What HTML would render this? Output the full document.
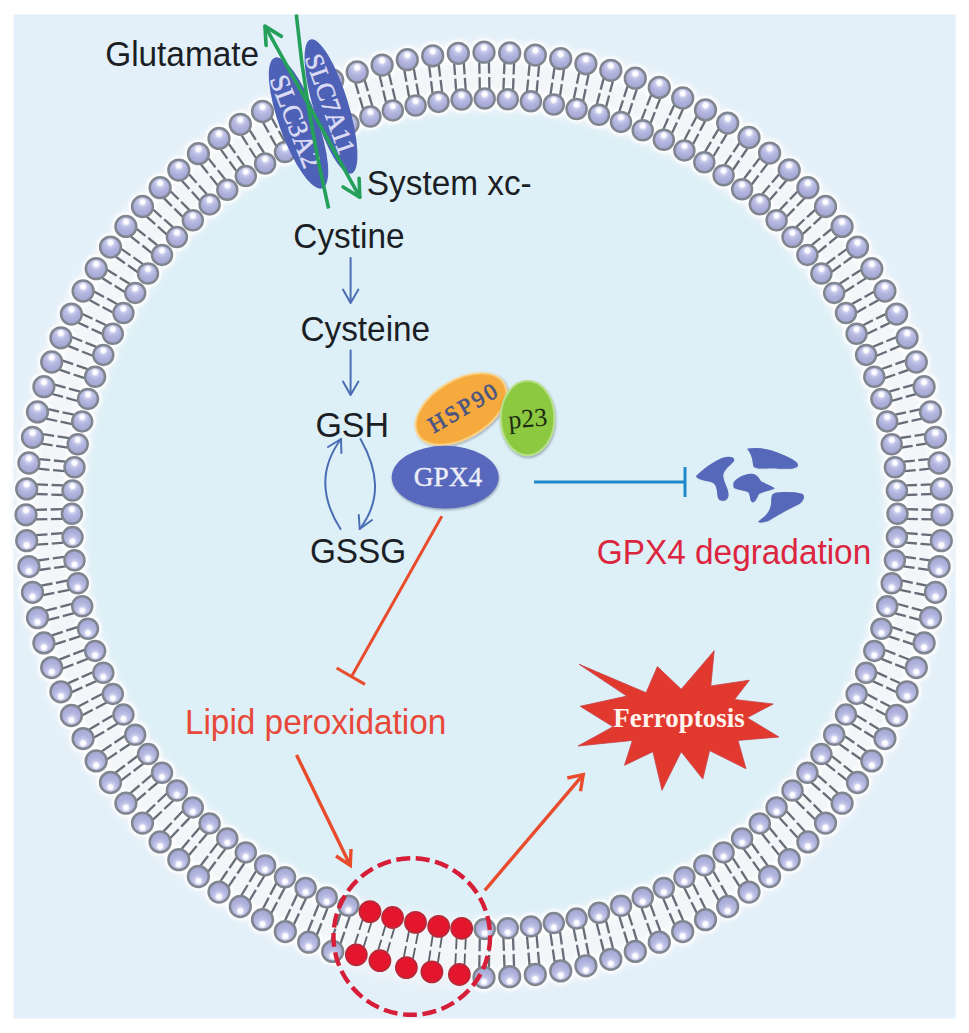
<!DOCTYPE html>
<html><head><meta charset="utf-8"><title>GPX4 ferroptosis</title>
<style>
html,body{margin:0;padding:0;background:#fff;}
body{width:969px;height:1033px;overflow:hidden;}
svg{display:block;}
.sans{font-family:"Liberation Sans",sans-serif;}
.serif{font-family:"Liberation Serif",serif;}
</style></head><body>
<svg width="969" height="1033" viewBox="0 0 969 1033">
<defs>
<radialGradient id="hu" cx="0.5" cy="0.3" r="0.62" fx="0.5" fy="0.28">
<stop offset="0" stop-color="#ffffff"/><stop offset="0.17" stop-color="#fbfbff"/><stop offset="0.33" stop-color="#c6c9ea"/><stop offset="0.6" stop-color="#b1b4de"/><stop offset="1" stop-color="#a5a8d4"/>
</radialGradient>
<radialGradient id="hd" cx="0.5" cy="0.7" r="0.62" fx="0.5" fy="0.72">
<stop offset="0" stop-color="#ffffff"/><stop offset="0.17" stop-color="#fbfbff"/><stop offset="0.33" stop-color="#c6c9ea"/><stop offset="0.6" stop-color="#b1b4de"/><stop offset="1" stop-color="#a5a8d4"/>
</radialGradient>
<filter id="ds" x="-20%" y="-20%" width="140%" height="150%"><feDropShadow dx="0.6" dy="1.6" stdDeviation="1.3" flood-color="#3c4466" flood-opacity="0.45"/></filter>
<filter id="soft" x="-2%" y="-2%" width="104%" height="104%"><feGaussianBlur stdDeviation="0.45"/></filter>
<filter id="blur1" x="-10%" y="-10%" width="120%" height="120%"><feGaussianBlur stdDeviation="3"/></filter>
<filter id="sh" x="-5%" y="-5%" width="110%" height="110%"><feGaussianBlur stdDeviation="1.6"/></filter>
</defs>
<rect x="0" y="0" width="969" height="1033" fill="#ffffff"/>
<rect x="13.5" y="14.5" width="942" height="1004" fill="#e4f0f9"/>

<ellipse cx="484.7" cy="513.8" rx="412.8" ry="415.2" fill="#def0f7"/>
<g filter="url(#soft)">
<ellipse cx="484" cy="514.8" rx="435.4" ry="438.9" fill="none" stroke="#edf3f8" stroke-width="71.2" filter="url(#blur1)"/>
<ellipse cx="484" cy="514.8" rx="435.4" ry="438.9" fill="none" stroke="#f3f6f8" stroke-width="41.2"/>
<g fill="#ffffff" filter="url(#sh)"><circle cx="484" cy="52.2" r="13.9"/><circle cx="484.7" cy="98.6" r="13.5"/><circle cx="509.7" cy="52.9" r="13.9"/><circle cx="507.8" cy="99.3" r="13.5"/><circle cx="535.3" cy="55.1" r="13.9"/><circle cx="530.9" cy="101.2" r="13.5"/><circle cx="560.7" cy="58.7" r="13.9"/><circle cx="553.8" cy="104.5" r="13.5"/><circle cx="585.9" cy="63.8" r="13.9"/><circle cx="576.6" cy="109" r="13.5"/><circle cx="610.8" cy="70.3" r="13.9"/><circle cx="599" cy="114.8" r="13.5"/><circle cx="635.3" cy="78.2" r="13.9"/><circle cx="621" cy="121.9" r="13.5"/><circle cx="659.3" cy="87.4" r="13.9"/><circle cx="642.7" cy="130.2" r="13.5"/><circle cx="682.7" cy="98" r="13.9"/><circle cx="663.8" cy="139.7" r="13.5"/><circle cx="705.5" cy="109.9" r="13.9"/><circle cx="684.4" cy="150.4" r="13.5"/><circle cx="727.7" cy="123.1" r="13.9"/><circle cx="704.3" cy="162.2" r="13.5"/><circle cx="749" cy="137.5" r="13.9"/><circle cx="723.6" cy="175.2" r="13.5"/><circle cx="769.6" cy="153.1" r="13.9"/><circle cx="742.1" cy="189.2" r="13.5"/><circle cx="789.2" cy="169.9" r="13.9"/><circle cx="759.8" cy="204.2" r="13.5"/><circle cx="807.9" cy="187.7" r="13.9"/><circle cx="776.6" cy="220.2" r="13.5"/><circle cx="825.5" cy="206.5" r="13.9"/><circle cx="792.5" cy="237.1" r="13.5"/><circle cx="842.1" cy="226.4" r="13.9"/><circle cx="807.4" cy="254.9" r="13.5"/><circle cx="857.5" cy="247.1" r="13.9"/><circle cx="821.4" cy="273.5" r="13.5"/><circle cx="871.8" cy="268.7" r="13.9"/><circle cx="834.2" cy="292.9" r="13.5"/><circle cx="884.9" cy="291" r="13.9"/><circle cx="846" cy="313" r="13.5"/><circle cx="896.6" cy="314.1" r="13.9"/><circle cx="856.6" cy="333.7" r="13.5"/><circle cx="907.1" cy="337.8" r="13.9"/><circle cx="866.1" cy="354.9" r="13.5"/><circle cx="916.3" cy="362" r="13.9"/><circle cx="874.3" cy="376.7" r="13.5"/><circle cx="924.1" cy="386.7" r="13.9"/><circle cx="881.4" cy="398.9" r="13.5"/><circle cx="930.5" cy="411.9" r="13.9"/><circle cx="887.2" cy="421.4" r="13.5"/><circle cx="935.5" cy="437.3" r="13.9"/><circle cx="891.7" cy="444.3" r="13.5"/><circle cx="939.1" cy="463" r="13.9"/><circle cx="894.9" cy="467.3" r="13.5"/><circle cx="941.3" cy="488.9" r="13.9"/><circle cx="896.9" cy="490.5" r="13.5"/><circle cx="942" cy="514.8" r="13.9"/><circle cx="897.5" cy="513.8" r="13.5"/><circle cx="941.3" cy="540.7" r="13.9"/><circle cx="896.9" cy="537.1" r="13.5"/><circle cx="939.1" cy="566.6" r="13.9"/><circle cx="894.9" cy="560.3" r="13.5"/><circle cx="935.5" cy="592.3" r="13.9"/><circle cx="891.7" cy="583.3" r="13.5"/><circle cx="930.5" cy="617.7" r="13.9"/><circle cx="887.2" cy="606.2" r="13.5"/><circle cx="924.1" cy="642.9" r="13.9"/><circle cx="881.4" cy="628.7" r="13.5"/><circle cx="916.3" cy="667.6" r="13.9"/><circle cx="874.3" cy="650.9" r="13.5"/><circle cx="907.1" cy="691.8" r="13.9"/><circle cx="866.1" cy="672.7" r="13.5"/><circle cx="896.6" cy="715.5" r="13.9"/><circle cx="856.6" cy="693.9" r="13.5"/><circle cx="884.9" cy="738.6" r="13.9"/><circle cx="846" cy="714.6" r="13.5"/><circle cx="871.8" cy="760.9" r="13.9"/><circle cx="834.2" cy="734.7" r="13.5"/><circle cx="857.5" cy="782.5" r="13.9"/><circle cx="821.4" cy="754.1" r="13.5"/><circle cx="842.1" cy="803.2" r="13.9"/><circle cx="807.4" cy="772.7" r="13.5"/><circle cx="825.5" cy="823.1" r="13.9"/><circle cx="792.5" cy="790.5" r="13.5"/><circle cx="807.9" cy="841.9" r="13.9"/><circle cx="776.6" cy="807.4" r="13.5"/><circle cx="789.2" cy="859.7" r="13.9"/><circle cx="759.8" cy="823.4" r="13.5"/><circle cx="769.6" cy="876.5" r="13.9"/><circle cx="742.1" cy="838.4" r="13.5"/><circle cx="749" cy="892.1" r="13.9"/><circle cx="723.6" cy="852.4" r="13.5"/><circle cx="727.7" cy="906.5" r="13.9"/><circle cx="704.3" cy="865.4" r="13.5"/><circle cx="705.5" cy="919.7" r="13.9"/><circle cx="684.4" cy="877.2" r="13.5"/><circle cx="682.7" cy="931.6" r="13.9"/><circle cx="663.8" cy="887.9" r="13.5"/><circle cx="659.3" cy="942.2" r="13.9"/><circle cx="642.7" cy="897.4" r="13.5"/><circle cx="635.3" cy="951.4" r="13.9"/><circle cx="621" cy="905.7" r="13.5"/><circle cx="610.8" cy="959.3" r="13.9"/><circle cx="599" cy="912.8" r="13.5"/><circle cx="585.9" cy="965.8" r="13.9"/><circle cx="576.6" cy="918.6" r="13.5"/><circle cx="560.7" cy="970.9" r="13.9"/><circle cx="553.8" cy="923.1" r="13.5"/><circle cx="535.3" cy="974.5" r="13.9"/><circle cx="530.9" cy="926.4" r="13.5"/><circle cx="509.7" cy="976.7" r="13.9"/><circle cx="507.8" cy="928.3" r="13.5"/><circle cx="484" cy="977.4" r="13.9"/><circle cx="484.7" cy="929" r="13.5"/><circle cx="332.7" cy="951.4" r="13.9"/><circle cx="348.4" cy="905.7" r="13.5"/><circle cx="308.7" cy="942.2" r="13.9"/><circle cx="326.7" cy="897.4" r="13.5"/><circle cx="285.3" cy="931.6" r="13.9"/><circle cx="305.6" cy="887.9" r="13.5"/><circle cx="262.5" cy="919.7" r="13.9"/><circle cx="285" cy="877.2" r="13.5"/><circle cx="240.3" cy="906.5" r="13.9"/><circle cx="265.1" cy="865.4" r="13.5"/><circle cx="219" cy="892.1" r="13.9"/><circle cx="245.8" cy="852.4" r="13.5"/><circle cx="198.4" cy="876.5" r="13.9"/><circle cx="227.3" cy="838.4" r="13.5"/><circle cx="178.8" cy="859.7" r="13.9"/><circle cx="209.6" cy="823.4" r="13.5"/><circle cx="160.1" cy="841.9" r="13.9"/><circle cx="192.8" cy="807.4" r="13.5"/><circle cx="142.5" cy="823.1" r="13.9"/><circle cx="176.9" cy="790.5" r="13.5"/><circle cx="125.9" cy="803.2" r="13.9"/><circle cx="162" cy="772.7" r="13.5"/><circle cx="110.5" cy="782.5" r="13.9"/><circle cx="148" cy="754.1" r="13.5"/><circle cx="96.2" cy="760.9" r="13.9"/><circle cx="135.2" cy="734.7" r="13.5"/><circle cx="83.1" cy="738.6" r="13.9"/><circle cx="123.4" cy="714.6" r="13.5"/><circle cx="71.4" cy="715.5" r="13.9"/><circle cx="112.8" cy="693.9" r="13.5"/><circle cx="60.9" cy="691.8" r="13.9"/><circle cx="103.3" cy="672.7" r="13.5"/><circle cx="51.7" cy="667.6" r="13.9"/><circle cx="95.1" cy="650.9" r="13.5"/><circle cx="43.9" cy="642.9" r="13.9"/><circle cx="88" cy="628.7" r="13.5"/><circle cx="37.5" cy="617.7" r="13.9"/><circle cx="82.2" cy="606.2" r="13.5"/><circle cx="32.5" cy="592.3" r="13.9"/><circle cx="77.7" cy="583.3" r="13.5"/><circle cx="28.9" cy="566.6" r="13.9"/><circle cx="74.5" cy="560.3" r="13.5"/><circle cx="26.7" cy="540.7" r="13.9"/><circle cx="72.5" cy="537.1" r="13.5"/><circle cx="26" cy="514.8" r="13.9"/><circle cx="71.9" cy="513.8" r="13.5"/><circle cx="26.7" cy="488.9" r="13.9"/><circle cx="72.5" cy="490.5" r="13.5"/><circle cx="28.9" cy="463" r="13.9"/><circle cx="74.5" cy="467.3" r="13.5"/><circle cx="32.5" cy="437.3" r="13.9"/><circle cx="77.7" cy="444.3" r="13.5"/><circle cx="37.5" cy="411.9" r="13.9"/><circle cx="82.2" cy="421.4" r="13.5"/><circle cx="43.9" cy="386.7" r="13.9"/><circle cx="88" cy="398.9" r="13.5"/><circle cx="51.7" cy="362" r="13.9"/><circle cx="95.1" cy="376.7" r="13.5"/><circle cx="60.9" cy="337.8" r="13.9"/><circle cx="103.3" cy="354.9" r="13.5"/><circle cx="71.4" cy="314.1" r="13.9"/><circle cx="112.8" cy="333.7" r="13.5"/><circle cx="83.1" cy="291" r="13.9"/><circle cx="123.4" cy="313" r="13.5"/><circle cx="96.2" cy="268.7" r="13.9"/><circle cx="135.2" cy="292.9" r="13.5"/><circle cx="110.5" cy="247.1" r="13.9"/><circle cx="148" cy="273.5" r="13.5"/><circle cx="125.9" cy="226.4" r="13.9"/><circle cx="162" cy="254.9" r="13.5"/><circle cx="142.5" cy="206.5" r="13.9"/><circle cx="176.9" cy="237.1" r="13.5"/><circle cx="160.1" cy="187.7" r="13.9"/><circle cx="192.8" cy="220.2" r="13.5"/><circle cx="178.8" cy="170.1" r="13.9"/><circle cx="209.6" cy="204.4" r="13.5"/><circle cx="198.4" cy="153.7" r="13.9"/><circle cx="227.3" cy="189.8" r="13.5"/><circle cx="219" cy="138.4" r="13.9"/><circle cx="245.8" cy="176.1" r="13.5"/><circle cx="240.3" cy="124.3" r="13.9"/><circle cx="265.1" cy="163.5" r="13.5"/><circle cx="262.5" cy="111.5" r="13.9"/><circle cx="285" cy="152" r="13.5"/><circle cx="332.7" cy="80.2" r="13.9"/><circle cx="348.4" cy="123.9" r="13.5"/><circle cx="357.2" cy="72" r="13.9"/><circle cx="370.4" cy="116.5" r="13.5"/><circle cx="382.1" cy="65.1" r="13.9"/><circle cx="392.8" cy="110.4" r="13.5"/><circle cx="407.3" cy="59.7" r="13.9"/><circle cx="415.6" cy="105.5" r="13.5"/><circle cx="432.7" cy="55.8" r="13.9"/><circle cx="438.5" cy="101.9" r="13.5"/><circle cx="458.3" cy="53.3" r="13.9"/><circle cx="461.6" cy="99.6" r="13.5"/></g>
<g stroke="#666d76" stroke-width="2.3" stroke-linecap="butt"><line x1="488.9" y1="62" x2="489.1" y2="73.5"/><line x1="489.2" y1="77.1" x2="489.4" y2="89"/><line x1="479.3" y1="62.2" x2="479.5" y2="73.7"/><line x1="479.6" y1="77.3" x2="479.8" y2="89.2"/><line x1="514.1" y1="63" x2="513.6" y2="74.5"/><line x1="513.5" y1="78.1" x2="513" y2="90"/><line x1="504.5" y1="62.6" x2="504" y2="74.1"/><line x1="503.9" y1="77.7" x2="503.4" y2="89.6"/><line x1="539.1" y1="65.4" x2="538" y2="76.8"/><line x1="537.7" y1="80.4" x2="536.6" y2="92.2"/><line x1="529.6" y1="64.5" x2="528.5" y2="75.9"/><line x1="528.2" y1="79.5" x2="527" y2="91.3"/><line x1="564" y1="69.2" x2="562.3" y2="80.5"/><line x1="561.8" y1="84.1" x2="560" y2="95.8"/><line x1="554.5" y1="67.8" x2="552.8" y2="79.1"/><line x1="552.3" y1="82.7" x2="550.5" y2="94.4"/><line x1="588.6" y1="74.5" x2="586.3" y2="85.6"/><line x1="585.6" y1="89.1" x2="583.2" y2="100.7"/><line x1="579.2" y1="72.5" x2="576.9" y2="83.7"/><line x1="576.2" y1="87.2" x2="573.8" y2="98.7"/><line x1="612.9" y1="81.1" x2="610" y2="92"/><line x1="609.1" y1="95.5" x2="606.1" y2="106.9"/><line x1="603.6" y1="78.6" x2="600.7" y2="89.6"/><line x1="599.8" y1="93.1" x2="596.8" y2="104.4"/><line x1="636.8" y1="89.1" x2="633.3" y2="99.8"/><line x1="632.2" y1="103.2" x2="628.5" y2="114.4"/><line x1="627.6" y1="86.1" x2="624.1" y2="96.8"/><line x1="623" y1="100.3" x2="619.4" y2="111.4"/><line x1="660.2" y1="98.4" x2="656.1" y2="108.9"/><line x1="654.8" y1="112.2" x2="650.6" y2="123.1"/><line x1="651.2" y1="94.9" x2="647.1" y2="105.4"/><line x1="645.8" y1="108.8" x2="641.6" y2="119.6"/><line x1="683" y1="109" x2="678.4" y2="119.2"/><line x1="676.9" y1="122.5" x2="672.1" y2="133"/><line x1="674.3" y1="105" x2="669.6" y2="115.2"/><line x1="668.1" y1="118.5" x2="663.4" y2="129.1"/><line x1="705.2" y1="120.9" x2="700" y2="130.8"/><line x1="698.4" y1="134" x2="693" y2="144.2"/><line x1="696.7" y1="116.5" x2="691.5" y2="126.3"/><line x1="689.9" y1="129.5" x2="684.5" y2="139.8"/><line x1="726.7" y1="134.1" x2="721" y2="143.6"/><line x1="719.2" y1="146.7" x2="713.3" y2="156.5"/><line x1="718.5" y1="129.1" x2="712.8" y2="138.7"/><line x1="711" y1="141.8" x2="705.1" y2="151.6"/><line x1="747.5" y1="148.4" x2="741.3" y2="157.5"/><line x1="739.3" y1="160.5" x2="732.9" y2="170"/><line x1="739.5" y1="143" x2="733.3" y2="152.2"/><line x1="731.3" y1="155.2" x2="724.9" y2="164.6"/><line x1="767.4" y1="163.9" x2="760.7" y2="172.6"/><line x1="758.5" y1="175.5" x2="751.7" y2="184.5"/><line x1="759.7" y1="158.1" x2="753.1" y2="166.8"/><line x1="750.9" y1="169.7" x2="744" y2="178.7"/><line x1="786.4" y1="180.5" x2="779.3" y2="188.8"/><line x1="777" y1="191.5" x2="769.6" y2="200.1"/><line x1="779.1" y1="174.3" x2="772" y2="182.5"/><line x1="769.7" y1="185.3" x2="762.3" y2="193.9"/><line x1="804.5" y1="198.2" x2="796.9" y2="206"/><line x1="794.4" y1="208.6" x2="786.6" y2="216.7"/><line x1="797.5" y1="191.5" x2="790" y2="199.3"/><line x1="787.5" y1="201.9" x2="779.7" y2="210"/><line x1="821.5" y1="216.8" x2="813.6" y2="224.1"/><line x1="810.9" y1="226.6" x2="802.7" y2="234.2"/><line x1="815" y1="209.8" x2="807.1" y2="217.1"/><line x1="804.4" y1="219.5" x2="796.2" y2="227.2"/><line x1="837.5" y1="236.4" x2="829.2" y2="243.2"/><line x1="826.4" y1="245.5" x2="817.8" y2="252.6"/><line x1="831.4" y1="229" x2="823.1" y2="235.8"/><line x1="820.3" y1="238.1" x2="811.7" y2="245.2"/><line x1="852.4" y1="256.8" x2="843.7" y2="263.1"/><line x1="840.8" y1="265.3" x2="831.9" y2="271.8"/><line x1="846.7" y1="249.1" x2="838.1" y2="255.4"/><line x1="835.2" y1="257.5" x2="826.2" y2="264.1"/><line x1="866.1" y1="278.1" x2="857.1" y2="283.9"/><line x1="854.1" y1="285.8" x2="844.8" y2="291.8"/><line x1="860.9" y1="270" x2="851.9" y2="275.8"/><line x1="848.9" y1="277.7" x2="839.6" y2="283.7"/><line x1="878.6" y1="300.1" x2="869.3" y2="305.3"/><line x1="866.2" y1="307.1" x2="856.6" y2="312.5"/><line x1="873.9" y1="291.7" x2="864.6" y2="296.9"/><line x1="861.5" y1="298.7" x2="851.9" y2="304.1"/><line x1="889.9" y1="322.7" x2="880.4" y2="327.4"/><line x1="877.1" y1="329" x2="867.3" y2="333.8"/><line x1="885.6" y1="314.1" x2="876.1" y2="318.8"/><line x1="872.9" y1="320.3" x2="863" y2="325.2"/><line x1="899.8" y1="346" x2="890.1" y2="350.1"/><line x1="886.8" y1="351.5" x2="876.7" y2="355.7"/><line x1="896.2" y1="337.2" x2="886.4" y2="341.2"/><line x1="883.1" y1="342.6" x2="873" y2="346.8"/><line x1="908.5" y1="369.8" x2="898.6" y2="373.3"/><line x1="895.2" y1="374.5" x2="884.9" y2="378.1"/><line x1="905.4" y1="360.7" x2="895.4" y2="364.2"/><line x1="892" y1="365.4" x2="881.7" y2="369"/><line x1="915.9" y1="394.1" x2="905.8" y2="396.9"/><line x1="902.3" y1="397.9" x2="891.8" y2="400.9"/><line x1="913.3" y1="384.8" x2="903.2" y2="387.7"/><line x1="899.7" y1="388.7" x2="889.2" y2="391.6"/><line x1="921.9" y1="418.7" x2="911.6" y2="420.9"/><line x1="908.1" y1="421.7" x2="897.5" y2="424.1"/><line x1="919.8" y1="409.3" x2="909.6" y2="411.6"/><line x1="906" y1="412.3" x2="895.4" y2="414.7"/><line x1="926.5" y1="443.6" x2="916.1" y2="445.2"/><line x1="912.6" y1="445.8" x2="901.8" y2="447.5"/><line x1="925" y1="434.1" x2="914.6" y2="435.8"/><line x1="911.1" y1="436.3" x2="900.3" y2="438"/><line x1="929.7" y1="468.7" x2="919.3" y2="469.8"/><line x1="915.7" y1="470.1" x2="904.8" y2="471.2"/><line x1="928.8" y1="459.2" x2="918.3" y2="460.2"/><line x1="914.8" y1="460.6" x2="903.9" y2="461.6"/><line x1="931.6" y1="494" x2="921" y2="494.4"/><line x1="917.4" y1="494.6" x2="906.5" y2="495"/><line x1="931.2" y1="484.4" x2="920.7" y2="484.8"/><line x1="917.1" y1="485" x2="906.2" y2="485.4"/><line x1="932" y1="519.4" x2="921.4" y2="519.1"/><line x1="917.8" y1="519.1" x2="906.9" y2="518.8"/><line x1="932.2" y1="509.8" x2="921.7" y2="509.5"/><line x1="918.1" y1="509.5" x2="907.1" y2="509.2"/><line x1="931" y1="544.7" x2="920.5" y2="543.8"/><line x1="916.9" y1="543.5" x2="905.9" y2="542.6"/><line x1="931.8" y1="535.1" x2="921.3" y2="534.3"/><line x1="917.7" y1="534" x2="906.7" y2="533.1"/><line x1="928.6" y1="569.9" x2="918.1" y2="568.4"/><line x1="914.6" y1="567.9" x2="903.6" y2="566.4"/><line x1="930" y1="560.4" x2="919.5" y2="558.9"/><line x1="915.9" y1="558.4" x2="905" y2="556.9"/><line x1="924.9" y1="595" x2="914.4" y2="592.9"/><line x1="910.9" y1="592.2" x2="900" y2="589.9"/><line x1="926.8" y1="585.6" x2="916.3" y2="583.5"/><line x1="912.8" y1="582.8" x2="901.9" y2="580.5"/><line x1="919.7" y1="619.8" x2="909.3" y2="617.1"/><line x1="905.9" y1="616.1" x2="895.1" y2="613.3"/><line x1="922.2" y1="610.6" x2="911.8" y2="607.8"/><line x1="908.3" y1="606.9" x2="897.6" y2="604"/><line x1="913.2" y1="644.3" x2="902.9" y2="640.9"/><line x1="899.5" y1="639.8" x2="888.9" y2="636.3"/><line x1="916.2" y1="635.2" x2="905.9" y2="631.8"/><line x1="902.5" y1="630.7" x2="891.9" y2="627.2"/><line x1="905.3" y1="668.4" x2="895.2" y2="664.4"/><line x1="891.9" y1="663.1" x2="881.4" y2="658.9"/><line x1="908.9" y1="659.5" x2="898.8" y2="655.5"/><line x1="895.4" y1="654.1" x2="884.9" y2="650"/><line x1="896.1" y1="692" x2="886.2" y2="687.4"/><line x1="882.9" y1="685.8" x2="872.7" y2="681.1"/><line x1="900.2" y1="683.3" x2="890.3" y2="678.7"/><line x1="887" y1="677.1" x2="876.7" y2="672.4"/><line x1="885.7" y1="715" x2="875.9" y2="709.8"/><line x1="872.8" y1="708.1" x2="862.7" y2="702.7"/><line x1="890.2" y1="706.6" x2="880.5" y2="701.4"/><line x1="877.3" y1="699.7" x2="867.3" y2="694.2"/><line x1="873.9" y1="737.5" x2="864.4" y2="731.6"/><line x1="861.4" y1="729.7" x2="851.6" y2="723.7"/><line x1="878.9" y1="729.3" x2="869.5" y2="723.5"/><line x1="866.4" y1="721.6" x2="856.6" y2="715.5"/><line x1="860.9" y1="759.2" x2="851.7" y2="752.8"/><line x1="848.8" y1="750.7" x2="839.3" y2="744.1"/><line x1="866.4" y1="751.3" x2="857.2" y2="744.9"/><line x1="854.3" y1="742.8" x2="844.8" y2="736.2"/><line x1="846.8" y1="780.1" x2="837.9" y2="773.2"/><line x1="835.1" y1="770.9" x2="825.9" y2="763.7"/><line x1="852.7" y1="772.6" x2="843.8" y2="765.6"/><line x1="841" y1="763.4" x2="831.8" y2="756.2"/><line x1="831.5" y1="800.3" x2="822.9" y2="792.7"/><line x1="820.2" y1="790.4" x2="811.4" y2="782.6"/><line x1="837.8" y1="793.1" x2="829.3" y2="785.5"/><line x1="826.6" y1="783.2" x2="817.7" y2="775.4"/><line x1="815.1" y1="819.5" x2="806.9" y2="811.4"/><line x1="804.3" y1="808.9" x2="795.9" y2="800.6"/><line x1="821.8" y1="812.7" x2="813.7" y2="804.6"/><line x1="811.1" y1="802.1" x2="802.6" y2="793.7"/><line x1="797.7" y1="837.8" x2="789.9" y2="829.2"/><line x1="787.5" y1="826.5" x2="779.4" y2="817.7"/><line x1="804.8" y1="831.3" x2="797" y2="822.8"/><line x1="794.6" y1="820.1" x2="786.5" y2="811.2"/><line x1="779.2" y1="855.1" x2="771.9" y2="846"/><line x1="769.6" y1="843.2" x2="762" y2="833.8"/><line x1="786.7" y1="849" x2="779.3" y2="839.9"/><line x1="777.1" y1="837.1" x2="769.5" y2="827.8"/><line x1="759.9" y1="871.3" x2="753" y2="861.7"/><line x1="750.9" y1="858.8" x2="743.7" y2="848.9"/><line x1="767.7" y1="865.6" x2="760.8" y2="856.1"/><line x1="758.7" y1="853.2" x2="751.5" y2="843.3"/><line x1="739.6" y1="886.3" x2="733.2" y2="876.4"/><line x1="731.3" y1="873.3" x2="724.7" y2="863"/><line x1="747.7" y1="881.2" x2="741.3" y2="871.2"/><line x1="739.4" y1="868.1" x2="732.7" y2="857.8"/><line x1="718.6" y1="900.3" x2="712.7" y2="889.9"/><line x1="710.9" y1="886.7" x2="704.8" y2="876"/><line x1="727" y1="895.5" x2="721.1" y2="885.1"/><line x1="719.3" y1="882" x2="713.2" y2="871.3"/><line x1="696.8" y1="913" x2="691.5" y2="902.2"/><line x1="689.9" y1="899" x2="684.3" y2="887.8"/><line x1="705.4" y1="908.7" x2="700.1" y2="897.9"/><line x1="698.5" y1="894.7" x2="692.9" y2="883.6"/><line x1="674.4" y1="924.4" x2="669.6" y2="913.3"/><line x1="668.1" y1="910" x2="663.2" y2="898.5"/><line x1="683.2" y1="920.6" x2="678.4" y2="909.5"/><line x1="677" y1="906.2" x2="672" y2="894.7"/><line x1="651.3" y1="934.6" x2="647.1" y2="923.1"/><line x1="645.8" y1="919.8" x2="641.5" y2="908"/><line x1="660.3" y1="931.2" x2="656.1" y2="919.8"/><line x1="654.8" y1="916.4" x2="650.5" y2="904.6"/><line x1="627.7" y1="943.4" x2="624.1" y2="931.7"/><line x1="623" y1="928.3" x2="619.3" y2="916.2"/><line x1="636.9" y1="940.6" x2="633.3" y2="928.9"/><line x1="632.2" y1="925.4" x2="628.4" y2="913.3"/><line x1="603.7" y1="950.9" x2="600.7" y2="939"/><line x1="599.8" y1="935.5" x2="596.7" y2="923.2"/><line x1="613" y1="948.5" x2="610" y2="936.6"/><line x1="609.1" y1="933.1" x2="606" y2="920.8"/><line x1="579.3" y1="957" x2="576.9" y2="944.9"/><line x1="576.2" y1="941.4" x2="573.7" y2="928.8"/><line x1="588.7" y1="955.2" x2="586.3" y2="943"/><line x1="585.6" y1="939.5" x2="583.1" y2="927"/><line x1="554.6" y1="961.7" x2="552.8" y2="949.5"/><line x1="552.3" y1="945.9" x2="550.4" y2="933.2"/><line x1="564.1" y1="960.4" x2="562.3" y2="948.1"/><line x1="561.8" y1="944.5" x2="560" y2="931.9"/><line x1="529.6" y1="965.1" x2="528.5" y2="952.7"/><line x1="528.2" y1="949.1" x2="527" y2="936.3"/><line x1="539.2" y1="964.2" x2="538" y2="951.8"/><line x1="537.7" y1="948.2" x2="536.6" y2="935.4"/><line x1="504.5" y1="967" x2="504" y2="954.5"/><line x1="503.9" y1="950.9" x2="503.4" y2="938"/><line x1="514.1" y1="966.6" x2="513.6" y2="954.1"/><line x1="513.5" y1="950.5" x2="513" y2="937.7"/><line x1="479.3" y1="967.4" x2="479.5" y2="954.9"/><line x1="479.6" y1="951.3" x2="479.8" y2="938.4"/><line x1="488.9" y1="967.6" x2="489.1" y2="955.1"/><line x1="489.2" y1="951.5" x2="489.4" y2="938.6"/><line x1="331.4" y1="940.5" x2="335.4" y2="928.7"/><line x1="336.6" y1="925.3" x2="340.7" y2="913.1"/><line x1="340.5" y1="943.6" x2="344.5" y2="931.8"/><line x1="345.7" y1="928.4" x2="349.8" y2="916.2"/><line x1="308" y1="931.2" x2="312.6" y2="919.7"/><line x1="313.9" y1="916.3" x2="318.7" y2="904.4"/><line x1="316.9" y1="934.8" x2="321.5" y2="923.3"/><line x1="322.9" y1="919.9" x2="327.6" y2="908"/><line x1="285.1" y1="920.6" x2="290.3" y2="909.3"/><line x1="291.8" y1="906.1" x2="297.2" y2="894.5"/><line x1="293.8" y1="924.6" x2="299" y2="913.4"/><line x1="300.5" y1="910.1" x2="305.9" y2="898.5"/><line x1="262.9" y1="908.7" x2="268.7" y2="897.8"/><line x1="270.3" y1="894.6" x2="276.3" y2="883.3"/><line x1="271.3" y1="913.2" x2="277.1" y2="902.3"/><line x1="278.8" y1="899.1" x2="284.8" y2="887.8"/><line x1="241.3" y1="895.5" x2="247.7" y2="885"/><line x1="249.5" y1="881.9" x2="256.1" y2="871"/><line x1="249.5" y1="900.5" x2="255.9" y2="889.9"/><line x1="257.7" y1="886.9" x2="264.3" y2="876"/><line x1="220.5" y1="881.2" x2="227.4" y2="871"/><line x1="229.4" y1="868.1" x2="236.5" y2="857.6"/><line x1="228.5" y1="886.6" x2="235.4" y2="876.4"/><line x1="237.4" y1="873.5" x2="244.5" y2="863"/><line x1="200.6" y1="865.7" x2="208" y2="856"/><line x1="210.1" y1="853.1" x2="217.8" y2="843.1"/><line x1="208.3" y1="871.5" x2="215.6" y2="861.8"/><line x1="217.8" y1="858.9" x2="225.4" y2="848.9"/><line x1="181.6" y1="849.1" x2="189.4" y2="839.8"/><line x1="191.7" y1="837.1" x2="199.8" y2="827.5"/><line x1="188.9" y1="855.3" x2="196.7" y2="846"/><line x1="199" y1="843.3" x2="207.1" y2="833.7"/><line x1="163.5" y1="831.4" x2="171.8" y2="822.7"/><line x1="174.2" y1="820" x2="182.8" y2="811"/><line x1="170.4" y1="838" x2="178.7" y2="829.3"/><line x1="181.2" y1="826.6" x2="189.8" y2="817.6"/><line x1="146.4" y1="812.8" x2="155.1" y2="804.5"/><line x1="157.7" y1="802" x2="166.7" y2="793.5"/><line x1="153" y1="819.7" x2="161.7" y2="811.5"/><line x1="164.3" y1="809" x2="173.3" y2="800.5"/><line x1="130.4" y1="793.2" x2="139.5" y2="785.5"/><line x1="142.2" y1="783.1" x2="151.6" y2="775.2"/><line x1="136.6" y1="800.5" x2="145.7" y2="792.8"/><line x1="148.4" y1="790.4" x2="157.8" y2="782.5"/><line x1="115.5" y1="772.7" x2="124.9" y2="765.5"/><line x1="127.8" y1="763.4" x2="137.6" y2="756"/><line x1="121.3" y1="780.3" x2="130.7" y2="773.2"/><line x1="133.6" y1="771" x2="143.4" y2="763.6"/><line x1="101.7" y1="751.4" x2="111.5" y2="744.8"/><line x1="114.5" y1="742.8" x2="124.6" y2="736"/><line x1="107.1" y1="759.4" x2="116.9" y2="752.8"/><line x1="119.9" y1="750.8" x2="130" y2="744"/><line x1="89.2" y1="729.4" x2="99.3" y2="723.4"/><line x1="102.4" y1="721.6" x2="112.8" y2="715.4"/><line x1="94.1" y1="737.6" x2="104.2" y2="731.7"/><line x1="107.3" y1="729.8" x2="117.7" y2="723.6"/><line x1="77.9" y1="706.7" x2="88.3" y2="701.3"/><line x1="91.4" y1="699.6" x2="102.1" y2="694.1"/><line x1="82.4" y1="715.2" x2="92.7" y2="709.8"/><line x1="95.9" y1="708.2" x2="106.6" y2="702.6"/><line x1="67.9" y1="683.4" x2="78.5" y2="678.6"/><line x1="81.8" y1="677.1" x2="92.7" y2="672.2"/><line x1="71.9" y1="692.1" x2="82.4" y2="687.4"/><line x1="85.7" y1="685.9" x2="96.6" y2="681"/><line x1="59.2" y1="659.6" x2="70" y2="655.4"/><line x1="73.3" y1="654.1" x2="84.5" y2="649.9"/><line x1="62.7" y1="668.5" x2="73.4" y2="664.4"/><line x1="76.8" y1="663.1" x2="87.9" y2="658.8"/><line x1="51.9" y1="635.3" x2="62.8" y2="631.8"/><line x1="66.2" y1="630.7" x2="77.5" y2="627.1"/><line x1="54.8" y1="644.4" x2="65.7" y2="640.9"/><line x1="69.1" y1="639.8" x2="80.4" y2="636.2"/><line x1="45.9" y1="610.6" x2="56.9" y2="607.8"/><line x1="60.4" y1="606.9" x2="71.9" y2="603.9"/><line x1="48.3" y1="619.9" x2="59.3" y2="617.1"/><line x1="62.8" y1="616.2" x2="74.2" y2="613.2"/><line x1="41.3" y1="585.7" x2="52.4" y2="583.5"/><line x1="55.9" y1="582.8" x2="67.5" y2="580.5"/><line x1="43.1" y1="595.1" x2="54.3" y2="592.9"/><line x1="57.8" y1="592.2" x2="69.3" y2="589.9"/><line x1="38" y1="560.5" x2="49.2" y2="558.9"/><line x1="52.8" y1="558.4" x2="64.4" y2="556.8"/><line x1="39.3" y1="570" x2="50.6" y2="568.4"/><line x1="54.1" y1="567.9" x2="65.7" y2="566.3"/><line x1="36.2" y1="535.2" x2="47.5" y2="534.3"/><line x1="51" y1="534" x2="62.7" y2="533.1"/><line x1="37" y1="544.7" x2="48.2" y2="543.8"/><line x1="51.8" y1="543.6" x2="63.5" y2="542.6"/><line x1="35.8" y1="509.8" x2="47" y2="509.5"/><line x1="50.6" y1="509.5" x2="62.3" y2="509.2"/><line x1="36" y1="519.4" x2="47.3" y2="519.1"/><line x1="50.9" y1="519.1" x2="62.5" y2="518.8"/><line x1="36.8" y1="484.4" x2="48" y2="484.8"/><line x1="51.6" y1="485" x2="63.2" y2="485.4"/><line x1="36.4" y1="494" x2="47.7" y2="494.4"/><line x1="51.3" y1="494.6" x2="62.9" y2="495"/><line x1="39.2" y1="459.2" x2="50.3" y2="460.2"/><line x1="53.9" y1="460.5" x2="65.5" y2="461.6"/><line x1="38.3" y1="468.7" x2="49.4" y2="469.8"/><line x1="53" y1="470.1" x2="64.6" y2="471.2"/><line x1="43" y1="434.1" x2="54.1" y2="435.8"/><line x1="57.6" y1="436.3" x2="69.1" y2="438.1"/><line x1="41.5" y1="443.6" x2="52.6" y2="445.3"/><line x1="56.2" y1="445.8" x2="67.6" y2="447.6"/><line x1="48.2" y1="409.2" x2="59.1" y2="411.6"/><line x1="62.6" y1="412.3" x2="74" y2="414.7"/><line x1="46.2" y1="418.6" x2="57.1" y2="421"/><line x1="60.6" y1="421.7" x2="72" y2="424.1"/><line x1="54.7" y1="384.7" x2="65.5" y2="387.7"/><line x1="69" y1="388.6" x2="80.1" y2="391.7"/><line x1="52.2" y1="394" x2="63" y2="396.9"/><line x1="66.4" y1="397.9" x2="77.6" y2="401"/><line x1="62.6" y1="360.6" x2="73.2" y2="364.2"/><line x1="76.6" y1="365.4" x2="87.6" y2="369.1"/><line x1="59.5" y1="369.7" x2="70.1" y2="373.3"/><line x1="73.6" y1="374.5" x2="84.5" y2="378.2"/><line x1="71.8" y1="337" x2="82.2" y2="341.2"/><line x1="85.6" y1="342.6" x2="96.3" y2="346.9"/><line x1="68.2" y1="345.9" x2="78.6" y2="350.1"/><line x1="82" y1="351.5" x2="92.7" y2="355.8"/><line x1="82.4" y1="314" x2="92.5" y2="318.8"/><line x1="95.7" y1="320.3" x2="106.2" y2="325.3"/><line x1="78.3" y1="322.7" x2="88.4" y2="327.4"/><line x1="91.6" y1="329" x2="102.1" y2="333.9"/><line x1="94.1" y1="291.6" x2="104" y2="296.9"/><line x1="107.2" y1="298.6" x2="117.4" y2="304.2"/><line x1="89.5" y1="300" x2="99.4" y2="305.4"/><line x1="102.6" y1="307.1" x2="112.8" y2="312.6"/><line x1="107.1" y1="269.8" x2="116.7" y2="275.8"/><line x1="119.7" y1="277.7" x2="129.6" y2="283.8"/><line x1="102.1" y1="278" x2="111.6" y2="283.9"/><line x1="114.7" y1="285.8" x2="124.6" y2="292"/><line x1="121.3" y1="248.9" x2="130.5" y2="255.4"/><line x1="133.5" y1="257.4" x2="143" y2="264.1"/><line x1="115.8" y1="256.7" x2="125" y2="263.2"/><line x1="128" y1="265.3" x2="137.5" y2="272"/><line x1="136.7" y1="228.8" x2="145.5" y2="235.8"/><line x1="148.3" y1="238" x2="157.5" y2="245.3"/><line x1="130.7" y1="236.3" x2="139.5" y2="243.3"/><line x1="142.4" y1="245.5" x2="151.5" y2="252.8"/><line x1="153.1" y1="209.5" x2="161.5" y2="217.1"/><line x1="164.2" y1="219.4" x2="173" y2="227.2"/><line x1="146.7" y1="216.7" x2="155.2" y2="224.2"/><line x1="157.9" y1="226.6" x2="166.6" y2="234.4"/><line x1="170.5" y1="191.3" x2="178.6" y2="199.3"/><line x1="181.1" y1="201.8" x2="189.5" y2="210.1"/><line x1="163.8" y1="198.1" x2="171.8" y2="206.1"/><line x1="174.4" y1="208.6" x2="182.7" y2="216.9"/><line x1="189" y1="174.3" x2="196.6" y2="182.7"/><line x1="199" y1="185.4" x2="206.9" y2="194.2"/><line x1="181.9" y1="180.7" x2="189.4" y2="189.1"/><line x1="191.9" y1="191.8" x2="199.7" y2="200.6"/><line x1="208.4" y1="158.4" x2="215.5" y2="167.3"/><line x1="217.8" y1="170.1" x2="225.1" y2="179.3"/><line x1="200.9" y1="164.4" x2="208" y2="173.3"/><line x1="210.3" y1="176.1" x2="217.6" y2="185.3"/><line x1="228.6" y1="143.7" x2="235.3" y2="153"/><line x1="237.3" y1="155.9" x2="244.2" y2="165.6"/><line x1="220.8" y1="149.3" x2="227.4" y2="158.6"/><line x1="229.5" y1="161.5" x2="236.4" y2="171.1"/><line x1="249.7" y1="130.1" x2="255.8" y2="139.8"/><line x1="257.7" y1="142.9" x2="264.1" y2="152.9"/><line x1="241.6" y1="135.3" x2="247.7" y2="145"/><line x1="249.6" y1="148" x2="255.9" y2="158"/><line x1="271.5" y1="117.8" x2="277.1" y2="127.8"/><line x1="278.8" y1="131" x2="284.6" y2="141.3"/><line x1="263.1" y1="122.5" x2="268.7" y2="132.5"/><line x1="270.4" y1="135.6" x2="276.2" y2="146"/><line x1="340.6" y1="87.9" x2="344.5" y2="98.7"/><line x1="345.7" y1="102.1" x2="349.7" y2="113.4"/><line x1="331.5" y1="91.1" x2="335.4" y2="102"/><line x1="336.6" y1="105.4" x2="340.6" y2="116.6"/><line x1="364.6" y1="80.1" x2="367.9" y2="91.1"/><line x1="368.9" y1="94.6" x2="372.3" y2="106"/><line x1="355.4" y1="82.8" x2="358.7" y2="93.9"/><line x1="359.7" y1="97.3" x2="363.1" y2="108.8"/><line x1="389" y1="73.7" x2="391.7" y2="84.9"/><line x1="392.6" y1="88.4" x2="395.3" y2="100"/><line x1="379.7" y1="75.9" x2="382.4" y2="87.1"/><line x1="383.2" y1="90.6" x2="386" y2="102.2"/><line x1="413.8" y1="68.6" x2="415.8" y2="80"/><line x1="416.5" y1="83.5" x2="418.6" y2="95.3"/><line x1="404.3" y1="70.3" x2="406.4" y2="81.7"/><line x1="407" y1="85.2" x2="409.1" y2="97"/><line x1="438.7" y1="65" x2="440.1" y2="76.5"/><line x1="440.6" y1="80" x2="442.1" y2="91.9"/><line x1="429.2" y1="66.2" x2="430.6" y2="77.6"/><line x1="431.1" y1="81.2" x2="432.5" y2="93.1"/><line x1="463.8" y1="62.8" x2="464.6" y2="74.3"/><line x1="464.9" y1="77.9" x2="465.7" y2="89.8"/><line x1="454.2" y1="63.5" x2="455" y2="75"/><line x1="455.3" y1="78.6" x2="456.1" y2="90.4"/></g>
<g stroke="#80868f" stroke-width="2.5"><circle cx="484" cy="52.2" r="10.4" fill="url(#hu)"/><circle cx="484.7" cy="98.6" r="10.0" fill="url(#hu)"/><circle cx="509.7" cy="52.9" r="10.4" fill="url(#hu)"/><circle cx="507.8" cy="99.3" r="10.0" fill="url(#hu)"/><circle cx="535.3" cy="55.1" r="10.4" fill="url(#hu)"/><circle cx="530.9" cy="101.2" r="10.0" fill="url(#hu)"/><circle cx="560.7" cy="58.7" r="10.4" fill="url(#hu)"/><circle cx="553.8" cy="104.5" r="10.0" fill="url(#hu)"/><circle cx="585.9" cy="63.8" r="10.4" fill="url(#hu)"/><circle cx="576.6" cy="109" r="10.0" fill="url(#hu)"/><circle cx="610.8" cy="70.3" r="10.4" fill="url(#hu)"/><circle cx="599" cy="114.8" r="10.0" fill="url(#hu)"/><circle cx="635.3" cy="78.2" r="10.4" fill="url(#hu)"/><circle cx="621" cy="121.9" r="10.0" fill="url(#hu)"/><circle cx="659.3" cy="87.4" r="10.4" fill="url(#hu)"/><circle cx="642.7" cy="130.2" r="10.0" fill="url(#hu)"/><circle cx="682.7" cy="98" r="10.4" fill="url(#hu)"/><circle cx="663.8" cy="139.7" r="10.0" fill="url(#hu)"/><circle cx="705.5" cy="109.9" r="10.4" fill="url(#hu)"/><circle cx="684.4" cy="150.4" r="10.0" fill="url(#hu)"/><circle cx="727.7" cy="123.1" r="10.4" fill="url(#hu)"/><circle cx="704.3" cy="162.2" r="10.0" fill="url(#hu)"/><circle cx="749" cy="137.5" r="10.4" fill="url(#hu)"/><circle cx="723.6" cy="175.2" r="10.0" fill="url(#hu)"/><circle cx="769.6" cy="153.1" r="10.4" fill="url(#hu)"/><circle cx="742.1" cy="189.2" r="10.0" fill="url(#hu)"/><circle cx="789.2" cy="169.9" r="10.4" fill="url(#hu)"/><circle cx="759.8" cy="204.2" r="10.0" fill="url(#hu)"/><circle cx="807.9" cy="187.7" r="10.4" fill="url(#hu)"/><circle cx="776.6" cy="220.2" r="10.0" fill="url(#hu)"/><circle cx="825.5" cy="206.5" r="10.4" fill="url(#hu)"/><circle cx="792.5" cy="237.1" r="10.0" fill="url(#hu)"/><circle cx="842.1" cy="226.4" r="10.4" fill="url(#hu)"/><circle cx="807.4" cy="254.9" r="10.0" fill="url(#hu)"/><circle cx="857.5" cy="247.1" r="10.4" fill="url(#hu)"/><circle cx="821.4" cy="273.5" r="10.0" fill="url(#hu)"/><circle cx="871.8" cy="268.7" r="10.4" fill="url(#hu)"/><circle cx="834.2" cy="292.9" r="10.0" fill="url(#hu)"/><circle cx="884.9" cy="291" r="10.4" fill="url(#hu)"/><circle cx="846" cy="313" r="10.0" fill="url(#hu)"/><circle cx="896.6" cy="314.1" r="10.4" fill="url(#hu)"/><circle cx="856.6" cy="333.7" r="10.0" fill="url(#hu)"/><circle cx="907.1" cy="337.8" r="10.4" fill="url(#hu)"/><circle cx="866.1" cy="354.9" r="10.0" fill="url(#hu)"/><circle cx="916.3" cy="362" r="10.4" fill="url(#hu)"/><circle cx="874.3" cy="376.7" r="10.0" fill="url(#hu)"/><circle cx="924.1" cy="386.7" r="10.4" fill="url(#hu)"/><circle cx="881.4" cy="398.9" r="10.0" fill="url(#hu)"/><circle cx="930.5" cy="411.9" r="10.4" fill="url(#hu)"/><circle cx="887.2" cy="421.4" r="10.0" fill="url(#hu)"/><circle cx="935.5" cy="437.3" r="10.4" fill="url(#hu)"/><circle cx="891.7" cy="444.3" r="10.0" fill="url(#hu)"/><circle cx="939.1" cy="463" r="10.4" fill="url(#hu)"/><circle cx="894.9" cy="467.3" r="10.0" fill="url(#hu)"/><circle cx="941.3" cy="488.9" r="10.4" fill="url(#hu)"/><circle cx="896.9" cy="490.5" r="10.0" fill="url(#hu)"/><circle cx="942" cy="514.8" r="10.4" fill="url(#hu)"/><circle cx="897.5" cy="513.8" r="10.0" fill="url(#hu)"/><circle cx="941.3" cy="540.7" r="10.4" fill="url(#hd)"/><circle cx="896.9" cy="537.1" r="10.0" fill="url(#hd)"/><circle cx="939.1" cy="566.6" r="10.4" fill="url(#hd)"/><circle cx="894.9" cy="560.3" r="10.0" fill="url(#hd)"/><circle cx="935.5" cy="592.3" r="10.4" fill="url(#hd)"/><circle cx="891.7" cy="583.3" r="10.0" fill="url(#hd)"/><circle cx="930.5" cy="617.7" r="10.4" fill="url(#hd)"/><circle cx="887.2" cy="606.2" r="10.0" fill="url(#hd)"/><circle cx="924.1" cy="642.9" r="10.4" fill="url(#hd)"/><circle cx="881.4" cy="628.7" r="10.0" fill="url(#hd)"/><circle cx="916.3" cy="667.6" r="10.4" fill="url(#hd)"/><circle cx="874.3" cy="650.9" r="10.0" fill="url(#hd)"/><circle cx="907.1" cy="691.8" r="10.4" fill="url(#hd)"/><circle cx="866.1" cy="672.7" r="10.0" fill="url(#hd)"/><circle cx="896.6" cy="715.5" r="10.4" fill="url(#hd)"/><circle cx="856.6" cy="693.9" r="10.0" fill="url(#hd)"/><circle cx="884.9" cy="738.6" r="10.4" fill="url(#hd)"/><circle cx="846" cy="714.6" r="10.0" fill="url(#hd)"/><circle cx="871.8" cy="760.9" r="10.4" fill="url(#hd)"/><circle cx="834.2" cy="734.7" r="10.0" fill="url(#hd)"/><circle cx="857.5" cy="782.5" r="10.4" fill="url(#hd)"/><circle cx="821.4" cy="754.1" r="10.0" fill="url(#hd)"/><circle cx="842.1" cy="803.2" r="10.4" fill="url(#hd)"/><circle cx="807.4" cy="772.7" r="10.0" fill="url(#hd)"/><circle cx="825.5" cy="823.1" r="10.4" fill="url(#hd)"/><circle cx="792.5" cy="790.5" r="10.0" fill="url(#hd)"/><circle cx="807.9" cy="841.9" r="10.4" fill="url(#hd)"/><circle cx="776.6" cy="807.4" r="10.0" fill="url(#hd)"/><circle cx="789.2" cy="859.7" r="10.4" fill="url(#hd)"/><circle cx="759.8" cy="823.4" r="10.0" fill="url(#hd)"/><circle cx="769.6" cy="876.5" r="10.4" fill="url(#hd)"/><circle cx="742.1" cy="838.4" r="10.0" fill="url(#hd)"/><circle cx="749" cy="892.1" r="10.4" fill="url(#hd)"/><circle cx="723.6" cy="852.4" r="10.0" fill="url(#hd)"/><circle cx="727.7" cy="906.5" r="10.4" fill="url(#hd)"/><circle cx="704.3" cy="865.4" r="10.0" fill="url(#hd)"/><circle cx="705.5" cy="919.7" r="10.4" fill="url(#hd)"/><circle cx="684.4" cy="877.2" r="10.0" fill="url(#hd)"/><circle cx="682.7" cy="931.6" r="10.4" fill="url(#hd)"/><circle cx="663.8" cy="887.9" r="10.0" fill="url(#hd)"/><circle cx="659.3" cy="942.2" r="10.4" fill="url(#hd)"/><circle cx="642.7" cy="897.4" r="10.0" fill="url(#hd)"/><circle cx="635.3" cy="951.4" r="10.4" fill="url(#hd)"/><circle cx="621" cy="905.7" r="10.0" fill="url(#hd)"/><circle cx="610.8" cy="959.3" r="10.4" fill="url(#hd)"/><circle cx="599" cy="912.8" r="10.0" fill="url(#hd)"/><circle cx="585.9" cy="965.8" r="10.4" fill="url(#hd)"/><circle cx="576.6" cy="918.6" r="10.0" fill="url(#hd)"/><circle cx="560.7" cy="970.9" r="10.4" fill="url(#hd)"/><circle cx="553.8" cy="923.1" r="10.0" fill="url(#hd)"/><circle cx="535.3" cy="974.5" r="10.4" fill="url(#hd)"/><circle cx="530.9" cy="926.4" r="10.0" fill="url(#hd)"/><circle cx="509.7" cy="976.7" r="10.4" fill="url(#hd)"/><circle cx="507.8" cy="928.3" r="10.0" fill="url(#hd)"/><circle cx="484" cy="977.4" r="10.4" fill="url(#hd)"/><circle cx="484.7" cy="929" r="10.0" fill="url(#hd)"/><circle cx="332.7" cy="951.4" r="10.4" fill="url(#hd)"/><circle cx="348.4" cy="905.7" r="10.0" fill="url(#hd)"/><circle cx="308.7" cy="942.2" r="10.4" fill="url(#hd)"/><circle cx="326.7" cy="897.4" r="10.0" fill="url(#hd)"/><circle cx="285.3" cy="931.6" r="10.4" fill="url(#hd)"/><circle cx="305.6" cy="887.9" r="10.0" fill="url(#hd)"/><circle cx="262.5" cy="919.7" r="10.4" fill="url(#hd)"/><circle cx="285" cy="877.2" r="10.0" fill="url(#hd)"/><circle cx="240.3" cy="906.5" r="10.4" fill="url(#hd)"/><circle cx="265.1" cy="865.4" r="10.0" fill="url(#hd)"/><circle cx="219" cy="892.1" r="10.4" fill="url(#hd)"/><circle cx="245.8" cy="852.4" r="10.0" fill="url(#hd)"/><circle cx="198.4" cy="876.5" r="10.4" fill="url(#hd)"/><circle cx="227.3" cy="838.4" r="10.0" fill="url(#hd)"/><circle cx="178.8" cy="859.7" r="10.4" fill="url(#hd)"/><circle cx="209.6" cy="823.4" r="10.0" fill="url(#hd)"/><circle cx="160.1" cy="841.9" r="10.4" fill="url(#hd)"/><circle cx="192.8" cy="807.4" r="10.0" fill="url(#hd)"/><circle cx="142.5" cy="823.1" r="10.4" fill="url(#hd)"/><circle cx="176.9" cy="790.5" r="10.0" fill="url(#hd)"/><circle cx="125.9" cy="803.2" r="10.4" fill="url(#hd)"/><circle cx="162" cy="772.7" r="10.0" fill="url(#hd)"/><circle cx="110.5" cy="782.5" r="10.4" fill="url(#hd)"/><circle cx="148" cy="754.1" r="10.0" fill="url(#hd)"/><circle cx="96.2" cy="760.9" r="10.4" fill="url(#hd)"/><circle cx="135.2" cy="734.7" r="10.0" fill="url(#hd)"/><circle cx="83.1" cy="738.6" r="10.4" fill="url(#hd)"/><circle cx="123.4" cy="714.6" r="10.0" fill="url(#hd)"/><circle cx="71.4" cy="715.5" r="10.4" fill="url(#hd)"/><circle cx="112.8" cy="693.9" r="10.0" fill="url(#hd)"/><circle cx="60.9" cy="691.8" r="10.4" fill="url(#hd)"/><circle cx="103.3" cy="672.7" r="10.0" fill="url(#hd)"/><circle cx="51.7" cy="667.6" r="10.4" fill="url(#hd)"/><circle cx="95.1" cy="650.9" r="10.0" fill="url(#hd)"/><circle cx="43.9" cy="642.9" r="10.4" fill="url(#hd)"/><circle cx="88" cy="628.7" r="10.0" fill="url(#hd)"/><circle cx="37.5" cy="617.7" r="10.4" fill="url(#hd)"/><circle cx="82.2" cy="606.2" r="10.0" fill="url(#hd)"/><circle cx="32.5" cy="592.3" r="10.4" fill="url(#hd)"/><circle cx="77.7" cy="583.3" r="10.0" fill="url(#hd)"/><circle cx="28.9" cy="566.6" r="10.4" fill="url(#hd)"/><circle cx="74.5" cy="560.3" r="10.0" fill="url(#hd)"/><circle cx="26.7" cy="540.7" r="10.4" fill="url(#hd)"/><circle cx="72.5" cy="537.1" r="10.0" fill="url(#hd)"/><circle cx="26" cy="514.8" r="10.4" fill="url(#hu)"/><circle cx="71.9" cy="513.8" r="10.0" fill="url(#hu)"/><circle cx="26.7" cy="488.9" r="10.4" fill="url(#hu)"/><circle cx="72.5" cy="490.5" r="10.0" fill="url(#hu)"/><circle cx="28.9" cy="463" r="10.4" fill="url(#hu)"/><circle cx="74.5" cy="467.3" r="10.0" fill="url(#hu)"/><circle cx="32.5" cy="437.3" r="10.4" fill="url(#hu)"/><circle cx="77.7" cy="444.3" r="10.0" fill="url(#hu)"/><circle cx="37.5" cy="411.9" r="10.4" fill="url(#hu)"/><circle cx="82.2" cy="421.4" r="10.0" fill="url(#hu)"/><circle cx="43.9" cy="386.7" r="10.4" fill="url(#hu)"/><circle cx="88" cy="398.9" r="10.0" fill="url(#hu)"/><circle cx="51.7" cy="362" r="10.4" fill="url(#hu)"/><circle cx="95.1" cy="376.7" r="10.0" fill="url(#hu)"/><circle cx="60.9" cy="337.8" r="10.4" fill="url(#hu)"/><circle cx="103.3" cy="354.9" r="10.0" fill="url(#hu)"/><circle cx="71.4" cy="314.1" r="10.4" fill="url(#hu)"/><circle cx="112.8" cy="333.7" r="10.0" fill="url(#hu)"/><circle cx="83.1" cy="291" r="10.4" fill="url(#hu)"/><circle cx="123.4" cy="313" r="10.0" fill="url(#hu)"/><circle cx="96.2" cy="268.7" r="10.4" fill="url(#hu)"/><circle cx="135.2" cy="292.9" r="10.0" fill="url(#hu)"/><circle cx="110.5" cy="247.1" r="10.4" fill="url(#hu)"/><circle cx="148" cy="273.5" r="10.0" fill="url(#hu)"/><circle cx="125.9" cy="226.4" r="10.4" fill="url(#hu)"/><circle cx="162" cy="254.9" r="10.0" fill="url(#hu)"/><circle cx="142.5" cy="206.5" r="10.4" fill="url(#hu)"/><circle cx="176.9" cy="237.1" r="10.0" fill="url(#hu)"/><circle cx="160.1" cy="187.7" r="10.4" fill="url(#hu)"/><circle cx="192.8" cy="220.2" r="10.0" fill="url(#hu)"/><circle cx="178.8" cy="170.1" r="10.4" fill="url(#hu)"/><circle cx="209.6" cy="204.4" r="10.0" fill="url(#hu)"/><circle cx="198.4" cy="153.7" r="10.4" fill="url(#hu)"/><circle cx="227.3" cy="189.8" r="10.0" fill="url(#hu)"/><circle cx="219" cy="138.4" r="10.4" fill="url(#hu)"/><circle cx="245.8" cy="176.1" r="10.0" fill="url(#hu)"/><circle cx="240.3" cy="124.3" r="10.4" fill="url(#hu)"/><circle cx="265.1" cy="163.5" r="10.0" fill="url(#hu)"/><circle cx="262.5" cy="111.5" r="10.4" fill="url(#hu)"/><circle cx="285" cy="152" r="10.0" fill="url(#hu)"/><circle cx="332.7" cy="80.2" r="10.4" fill="url(#hu)"/><circle cx="348.4" cy="123.9" r="10.0" fill="url(#hu)"/><circle cx="357.2" cy="72" r="10.4" fill="url(#hu)"/><circle cx="370.4" cy="116.5" r="10.0" fill="url(#hu)"/><circle cx="382.1" cy="65.1" r="10.4" fill="url(#hu)"/><circle cx="392.8" cy="110.4" r="10.0" fill="url(#hu)"/><circle cx="407.3" cy="59.7" r="10.4" fill="url(#hu)"/><circle cx="415.6" cy="105.5" r="10.0" fill="url(#hu)"/><circle cx="432.7" cy="55.8" r="10.4" fill="url(#hu)"/><circle cx="438.5" cy="101.9" r="10.0" fill="url(#hu)"/><circle cx="458.3" cy="53.3" r="10.4" fill="url(#hu)"/><circle cx="461.6" cy="99.6" r="10.0" fill="url(#hu)"/></g>
<g stroke="#5b6068" stroke-width="1.8"><line x1="371.4" y1="922.5" x2="368.1" y2="932.7"/><line x1="366.9" y1="936.5" x2="363.7" y2="946.7"/><line x1="362.6" y1="919.7" x2="359.4" y2="929.9"/><line x1="358.2" y1="933.7" x2="354.9" y2="943.9"/><line x1="394.2" y1="928.4" x2="391.2" y2="938.5"/><line x1="390.1" y1="942.3" x2="387.1" y2="952.4"/><line x1="385.4" y1="925.8" x2="382.4" y2="935.9"/><line x1="381.3" y1="939.7" x2="378.3" y2="949.8"/><line x1="418" y1="933.1" x2="415.9" y2="943.9"/><line x1="415.1" y1="947.9" x2="412.9" y2="958.7"/><line x1="409" y1="931.3" x2="406.8" y2="942.1"/><line x1="406" y1="946.1" x2="403.9" y2="956.9"/><line x1="441.8" y1="937" x2="440.1" y2="947.9"/><line x1="439.6" y1="951.8" x2="437.9" y2="962.7"/><line x1="432.7" y1="935.6" x2="431" y2="946.5"/><line x1="430.5" y1="950.4" x2="428.8" y2="961.3"/><line x1="465.8" y1="938.5" x2="465.2" y2="949.6"/><line x1="465" y1="953.6" x2="464.5" y2="964.7"/><line x1="456.6" y1="938.1" x2="456.1" y2="949.2"/><line x1="455.9" y1="953.2" x2="455.3" y2="964.3"/></g>
<g fill="#e3182f" stroke="#b42a38" stroke-width="1.6"><circle cx="370" cy="911.6" r="10.6"/><circle cx="392.6" cy="917.5" r="10.6"/><circle cx="415.5" cy="922.4" r="10.6"/><circle cx="438.7" cy="926.4" r="10.6"/><circle cx="461.7" cy="928.3" r="10.6"/><circle cx="356.3" cy="954.8" r="10.6"/><circle cx="379.9" cy="960.7" r="10.6"/><circle cx="406.4" cy="967.6" r="10.6"/><circle cx="431.9" cy="971.9" r="10.6"/><circle cx="459.4" cy="974.5" r="10.6"/></g>
</g>
<circle cx="411.8" cy="936.5" r="78.3" fill="none" stroke="#d61e38" stroke-width="4.4" stroke-dasharray="14 5.6"/>
<g fill="#4d61b6"><ellipse cx="0" cy="0" rx="19" ry="69.5" transform="translate(298.5,123) rotate(-20)"/><ellipse cx="0" cy="0" rx="17.5" ry="70" transform="translate(331,106.5) rotate(-17)"/></g>
<g class="serif" font-size="26" fill="#dcdcf4" stroke="#dcdcf4" stroke-width="0.5" text-anchor="middle"><text transform="translate(295.5,121.3) rotate(68.7)" dy="9.3" font-size="27.4">SLC3A2</text><text transform="translate(330.5,104) rotate(70.5)" dy="9">SLC7A11</text></g>
<g stroke="#24a05a" stroke-width="3.6" fill="none" stroke-linecap="round" stroke-linejoin="round"><path d="M296.3,14.5 Q305.8,111.5 328.6,208.5" stroke-linecap="butt"/><line x1="265.3" y1="26.6" x2="359.8" y2="197.2"/><polyline points="266.1,45.5 264.9,26.1 281.4,36.4"/><polyline points="343.1,187 359.8,197.2 359.1,178.3"/></g>
<g class="sans" font-size="34.5" fill="#1b1f25"><text transform="translate(105.2,66.2) scale(0.967,1)">Glutamate</text><text transform="translate(366.8,195.3) scale(0.967,1)">System xc-</text><text transform="translate(293.3,247.8) scale(0.967,1)">Cystine</text><text transform="translate(300.4,341.2) scale(0.967,1)">Cysteine</text><text transform="translate(315.4,436.8) scale(0.985,1)">GSH</text><text transform="translate(309.9,563.3) scale(0.967,1)">GSSG</text></g>
<g stroke="#4b6db4" stroke-width="2" fill="none" stroke-linecap="round" stroke-linejoin="round"><line x1="350.6" y1="258" x2="350.6" y2="302"/><polyline points="343,289.5 350.6,303 358.4,289.5"/><line x1="350.6" y1="350.4" x2="350.6" y2="394"/><polyline points="343,381.5 350.6,395 358.4,381.5"/><path d="M340.5,529 C322,500 318,470 341,439"/><polyline points="328,447 341,439 341.4,453"/><path d="M360.5,439 C378,470 382,500 359.7,529"/><polyline points="358.8,515 359.7,529 372,520"/></g>
<ellipse cx="0" cy="0" rx="50" ry="29" transform="translate(461,409) rotate(-31)" fill="#f6aa3c" stroke="#fbd58a" stroke-width="2" filter="url(#ds)"/>
<text class="serif" font-size="23" letter-spacing="2.6" fill="#4a5482" stroke="#4a5482" stroke-width="0.7" text-anchor="middle" transform="translate(467.5,414) rotate(-30)">HSP90</text>
<ellipse cx="527.6" cy="418" rx="26.8" ry="37.2" fill="#8cc840" stroke="#b8e08a" stroke-width="2" filter="url(#ds)"/>
<text class="serif" font-size="26" fill="#1c2a14" text-anchor="middle" transform="translate(528.5,427) rotate(-5)">p23</text>
<ellipse cx="445.2" cy="477.2" rx="53.5" ry="31.4" fill="#5869bd" filter="url(#ds)"/>
<text class="serif" font-size="27.3" fill="#eceef9" stroke="#eceef9" stroke-width="0.4" x="448" y="485.5" text-anchor="middle">GPX4</text>
<g stroke="#1f88c8" stroke-width="3" fill="none"><line x1="534" y1="482" x2="685" y2="482"/><line x1="685" y1="467" x2="685" y2="497"/></g>
<path d="M110,285 C150,240 250,170 300,155 C340,145 380,150 375,175 C365,200 310,230 300,270 C290,310 340,370 335,420 C330,460 280,465 265,440 C255,410 260,360 235,335 C200,310 130,320 110,285 Z M465,95 C540,80 640,100 720,140 C780,165 825,190 815,215 C800,240 720,235 650,230 C590,228 530,240 510,220 C500,200 510,150 465,95 Z M370,330 C390,300 440,270 490,268 C530,266 550,300 560,320 C600,340 650,360 655,370 C620,385 560,395 545,410 C530,440 520,470 500,465 C480,455 490,410 470,395 C440,380 380,380 370,360 Z M540,600 C580,570 620,540 630,480 C635,440 625,410 660,400 C720,390 820,395 850,410 C870,430 850,470 800,490 C740,520 670,560 620,590 C590,605 555,610 540,600 Z" fill="#5668ba" filter="url(#ds)" transform="translate(680,435) scale(0.1445)"/>
<text class="sans" font-size="34.5" fill="#dc2640" transform="translate(596.8,564.3) scale(0.967,1)">GPX4 degradation</text>
<g stroke="#e84c2c" stroke-width="3" fill="none"><line x1="441.8" y1="516.3" x2="352" y2="675.8"/><line x1="336.6" y1="668" x2="365" y2="684.4"/></g>
<text class="sans" font-size="34.5" fill="#e8483a" transform="translate(184.9,733.9) scale(0.967,1)">Lipid peroxidation</text>
<g stroke="#e84c2c" stroke-width="3.4" fill="none" stroke-linejoin="miter"><line x1="296.5" y1="754.9" x2="350.3" y2="865.5"/><polyline points="336,856 350.3,865.5 351,849"/><line x1="484.8" y1="890.3" x2="583.2" y2="774.7"/><polyline points="567.3,778 583.2,774.7 580.5,791.2"/></g>
<polygon points="579.1,664.3 646.1,692.7 657.4,666.6 681.2,689.3 714.2,650.7 710.8,685.9 749.4,680.2 734.6,699.5 773.2,704 747.1,717.7 778.9,737 738,740.4 746,768.7 709.6,750.6 702.8,779 681.2,751.7 662,790.3 652.9,751.7 624.5,765.3 632.4,740.4 578,746 613.1,726.7 580.2,706.3 626.8,696.1" fill="#e2392f" stroke="#c84048" stroke-width="0.8" stroke-linejoin="miter"/>
<text class="serif" font-size="27" font-weight="bold" fill="#fff4ee" x="679" y="726.7" text-anchor="middle">Ferroptosis</text>
</svg></body></html>
